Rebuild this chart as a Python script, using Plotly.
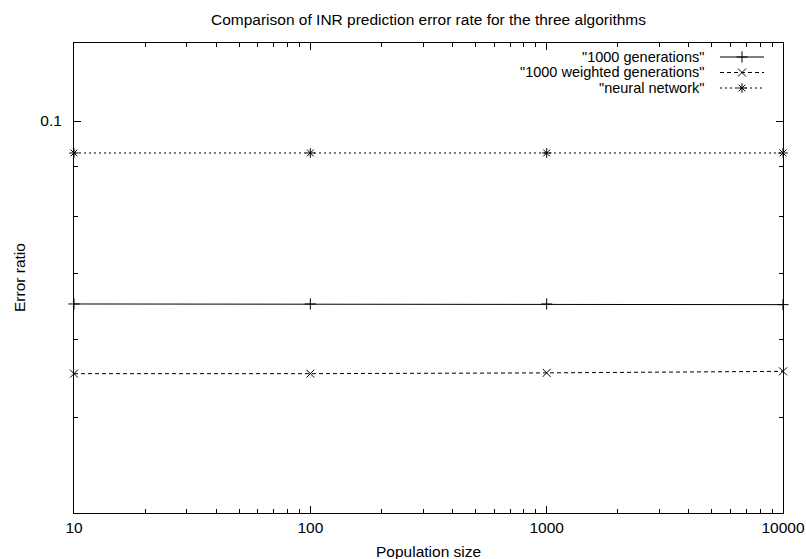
import plotly.graph_objects as go
import numpy as np

population = [10, 100, 1000, 10000]
gen_1000 = [0.0652, 0.0652, 0.0652, 0.0651]
weighted_1000 = [0.0554, 0.0554, 0.0555, 0.0557]
neural = [0.0928, 0.0928, 0.0928, 0.0928]
series_names = ['"1000 generations"', '"1000 weighted generations"', '"neural network"']

x_major = [10, 100, 1000, 10000]
x_minor = [m * d for d in (10, 100, 1000) for m in range(2, 10)]
y_major = [0.1]
y_minor = [0.05, 0.06, 0.07, 0.08, 0.09]

FONT = "Liberation Sans, Arial, Helvetica, sans-serif"
FS = 15.5
KEY_FS = 14.5

styles = [
    dict(dash="solid", symbol="cross-thin-open"),
    dict(dash="4px,3px", symbol="x-thin-open"),
    dict(dash="2px,3px", symbol="asterisk-open"),
]
data = [gen_1000, weighted_1000, neural]

W, H = 806, 559
L, R, T, B = 74, 23, 43, 46
pw, ph = W - L - R, H - T - B


def px_to_paper(x, y):
    return (x - L) / pw, 1 - (y - T) / ph


fig = go.Figure()
for vals, st, name in zip(data, styles, series_names):
    fig.add_trace(go.Scatter(
        x=population, y=vals, mode="lines+markers", name=name,
        line=dict(color="black", width=1, dash=st["dash"]),
        marker=dict(symbol=st["symbol"], size=8, color="black",
                    line=dict(color="black", width=1)),
        showlegend=False, cliponaxis=False,
    ))

# gnuplot-style key: text on the left, line sample on the right
rows_y = [57, 72.5, 88]
for i, (st, name) in enumerate(zip(styles, series_names)):
    tx, ty = px_to_paper(705, rows_y[i])
    fig.add_annotation(x=tx, y=ty, xref="paper", yref="paper", text=name,
                       showarrow=False, xanchor="right", yanchor="middle",
                       borderpad=0,
                       font=dict(family=FONT, size=KEY_FS, color="black"))
    x0, _ = px_to_paper(720, rows_y[i])
    x1, _ = px_to_paper(764, rows_y[i])
    xm, _ = px_to_paper(742, rows_y[i])
    fig.add_trace(go.Scatter(
        x=[x0, xm, x1], y=[ty, ty, ty], xaxis="x2", yaxis="y2",
        mode="lines", line=dict(color="black", width=1, dash=st["dash"]),
        showlegend=False, hoverinfo="skip"))
    fig.add_trace(go.Scatter(
        x=[xm], y=[ty], xaxis="x2", yaxis="y2", mode="markers",
        marker=dict(symbol=st["symbol"], size=8, color="black",
                    line=dict(color="black", width=1)),
        showlegend=False, hoverinfo="skip"))

# axis titles
ax, ay = px_to_paper(428, 551)
fig.add_annotation(x=ax, y=ay, xref="paper", yref="paper", text="Population size",
                   showarrow=False, xanchor="center", yanchor="middle",
                   font=dict(family=FONT, size=FS, color="black"))
bx, by = px_to_paper(19, 278)
fig.add_annotation(x=bx, y=by, xref="paper", yref="paper", text="Error ratio",
                   showarrow=False, xanchor="center", yanchor="middle", textangle=-90,
                   font=dict(family=FONT, size=FS, color="black"))

fig.update_layout(
    template="none",
    width=W, height=H,
    margin=dict(l=L, r=R, t=T, b=B, autoexpand=False),
    paper_bgcolor="white", plot_bgcolor="white",
    font=dict(family=FONT, size=FS, color="black"),
    title=dict(text="Comparison of INR prediction error rate for the three algorithms",
               x=(428.5) / W, xanchor="center", y=1 - 20 / H, yanchor="middle",
               font=dict(family=FONT, size=FS, color="black")),
    xaxis=dict(type="log", range=[1, 4], tickvals=x_major,
               ticktext=[str(v) for v in x_major],
               ticks="inside", ticklen=7, tickcolor="black", tickwidth=1,
               showline=True, linecolor="black", linewidth=1, mirror="allticks",
               showgrid=False, zeroline=False, automargin=False,
               minor=dict(tickvals=x_minor, ticks="inside", ticklen=4,
                          tickcolor="black", tickwidth=1, showgrid=False),
               ticklabelstandoff=0,
               tickfont=dict(family=FONT, size=FS, color="black")),
    yaxis=dict(type="log", range=[np.log10(0.04), np.log10(0.12)], tickvals=y_major,
               ticktext=["0.1"],
               ticks="inside", ticklen=7, tickcolor="black", tickwidth=1,
               showline=True, linecolor="black", linewidth=1, mirror="allticks",
               showgrid=False, zeroline=False, automargin=False,
               minor=dict(tickvals=y_minor, ticks="inside", ticklen=4,
                          tickcolor="black", tickwidth=1, showgrid=False),
               ticklabelstandoff=8,
               tickfont=dict(family=FONT, size=FS, color="black")),
    xaxis2=dict(overlaying="x", range=[0, 1], visible=False, fixedrange=True),
    yaxis2=dict(overlaying="y", range=[0, 1], visible=False, fixedrange=True),
)

fig.write_html("out.html")
